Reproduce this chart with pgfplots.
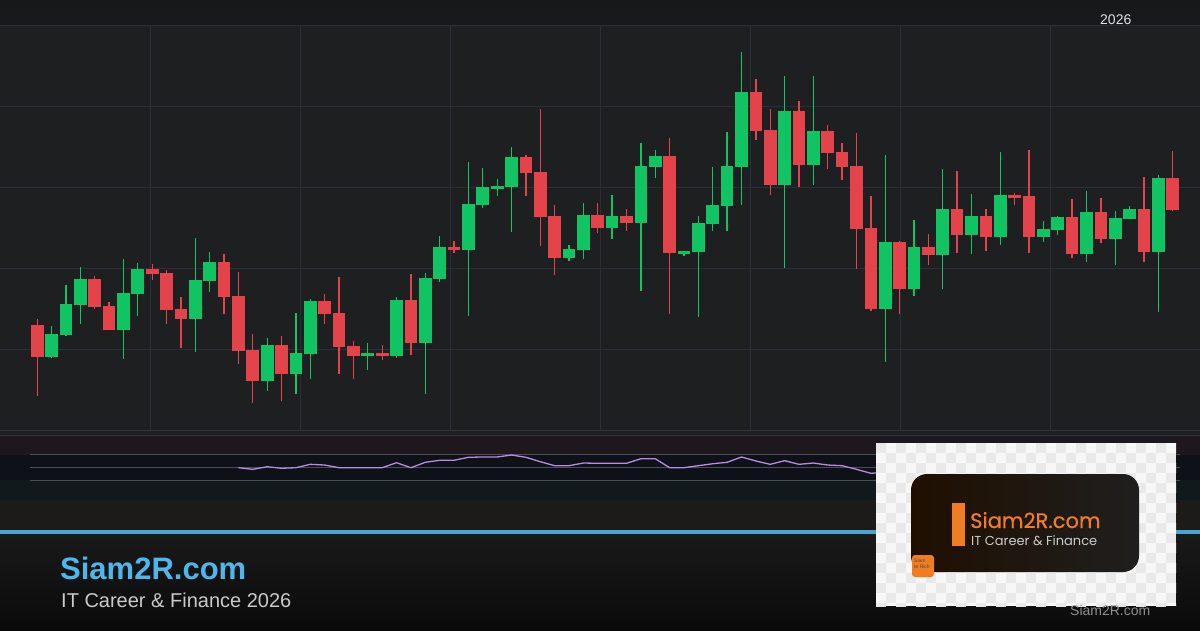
\documentclass[border=0pt]{standalone}
\usepackage{pgfplots}
\pgfplotsset{compat=1.18}
\usepackage{pgfplotstable}
\usepackage{fontspec}
\setmainfont{Liberation Sans}
\newfontfamily\pop{Poppins}
\newfontfamily\popb{Poppins}[FakeBold=0.6]
\definecolor{hdr}{HTML}{17181A}
\definecolor{chartbg}{HTML}{1E1F21}
\definecolor{gridc}{HTML}{2A2E39}
\definecolor{upc}{HTML}{10C463}
\definecolor{dnc}{HTML}{E5434B}
\definecolor{sepc}{HTML}{33353A}
\definecolor{obz}{HTML}{1E171E}
\definecolor{midz}{HTML}{0E1118}
\definecolor{osz}{HTML}{101A1C}
\definecolor{lowbg}{HTML}{1C1B1A}
\definecolor{bluel}{HTML}{4BA3D0}
\definecolor{rsic}{HTML}{B88AE2}
\definecolor{rsilev}{HTML}{4A4D55}
\definecolor{brand}{HTML}{4DB6EA}
\definecolor{subc}{HTML}{CACACA}
\definecolor{orangec}{HTML}{F07D22}
\definecolor{chk}{HTML}{E9E9E9}
\definecolor{wm}{HTML}{8E8E8E}

% up (green) candles: index, open, high, low, close
\pgfplotstableread{
i o h l c
1 73 104 72 96
2 95 145 94 126
3 125 163 106 151
6 100 171 71 137
7 136 167 114 161
11 111 192 78 150
12 149 178 138 168
16 49 92 39 85
18 56 117 36 77
19 76 131 51 129
23 74 87 60 77
25 74 133 72 130
27 87 157 36 152
28 151 194 148 183
30 180 268 114 226
31 225 262 222 243
32 241 251 234 244
33 243 283 198 273
37 172 185 169 181
38 180 227 171 215
40 202 235 191 214
42 207 287 139 264
43 263 280 252 274
45 176 179 174 179
46 178 214 113 207
47 206 263 199 225
48 224 298 199 264
49 263 378 225 338
52 245 354 162 319
54 265 354 245 299
59 121 275 68 188
61 141 210 134 183
63 175 261 141 221
65 195 236 176 214
67 193 278 185 235
70 193 209 188 201
71 200 214 195 213
73 176 239 168 218
75 191 219 165 212
76 211 224 211 221
78 178 255 118 252
}\upT

% down (red) candles: index, open, high, low, close
\pgfplotstableread{
i o h l c
0 105 111 34 73
4 151 154 121 123
5 124 128 100 100
8 161 166 150 156
9 157 160 106 120
10 121 133 82 111
13 168 176 116 133
14 134 158 66 79
15 80 96 27 49
17 85 94 29 56
20 129 136 106 116
21 117 153 56 83
22 84 89 51 74
24 77 85 70 74
26 130 156 75 87
29 183 189 177 180
34 273 275 234 257
35 258 321 184 213
36 214 225 155 172
39 215 227 197 202
41 214 221 199 207
44 274 292 116 177
50 338 351 290 299
51 300 321 235 245
53 319 329 243 265
55 299 305 261 277
56 278 287 250 263
57 264 297 161 201
58 202 234 119 121
60 188 189 116 141
62 183 196 165 175
64 221 259 177 195
66 214 221 179 193
68 235 237 225 232
69 234 280 177 193
72 213 231 172 176
74 218 232 187 191
77 221 253 168 178
79 252 279 219 220
}\downT

% RSI
\pgfplotstableread{
i r
14 49.7
15 47.2
16 51.2
17 48.8
18 49.7
19 54.9
20 53.8
21 49.7
22 49.7
23 49.7
24 49.7
25 57.4
26 49.7
27 58.0
28 61.1
29 61.1
30 65.7
31 66.2
32 66.2
33 69.2
34 65.7
35 58.9
36 52.8
37 52.8
38 56.9
39 56.5
40 56.5
41 56.5
42 63.5
43 63.5
44 49.7
45 49.7
46 52.8
47 55.8
48 58.0
49 66.2
50 60.0
51 54.9
52 60.5
53 54.9
54 56.9
55 53.8
56 52.8
57 47.2
58 41.1
59 42.6
}\rsiT

\begin{document}
\begin{tikzpicture}[x=1pt,y=-1pt]
\useasboundingbox (0,0) rectangle (1200,630);
% backgrounds
\fill[chartbg] (0,0) rectangle (1200,430);
\shade[top color=hdr, bottom color=hdr!80!chartbg] (0,0) rectangle (1200,25);
\fill[chartbg] (0,430) rectangle (1200,435);
\fill[obz] (0,435) rectangle (1200,455);
\fill[midz] (0,455) rectangle (1200,480);
\fill[osz] (0,480) rectangle (1200,500);
\fill[lowbg] (0,500) rectangle (1200,530);
\fill[bluel] (0,530) rectangle (1200,534);
\shade[top color=black!90!white, bottom color=black!96!white] (0,534) rectangle (1200,630);
% grid
\foreach \gy in {25,106,187,268,349}
  \draw[gridc, line width=1pt] (0,\gy) -- (1200,\gy);
\foreach \gx in {150,300,...,1050}
  \draw[gridc, line width=1pt] (\gx,25) -- (\gx,430);
\draw[sepc, line width=1pt] (0,430.5) -- (1200,430.5);
\draw[sepc, line width=1pt] (0,435) -- (1200,435);
\node[anchor=base west, text=white!88!black, font=\fontsize{14}{16}\selectfont, inner sep=0pt] at (1100,24) {2026};

% candles
\begin{axis}[at={(30pt,-430pt)}, anchor=south west, scale only axis,
  width=1150pt, height=405pt, xmin=-0.5, xmax=79.5, ymin=0, ymax=405,
  axis lines=none, clip=false]
\addplot[draw=none, mark=none, error bars/.cd, y dir=plus, y explicit,
  error mark=none, error bar style={line width=1.3pt, draw=upc}]
  table[x=i, y=l, y error plus expr=\thisrow{h}-\thisrow{l}] {\upT};
\addplot[draw=none, mark=none, error bars/.cd, y dir=plus, y explicit,
  error mark=none, error bar style={line width=1.3pt, draw=dnc}]
  table[x=i, y=l, y error plus expr=\thisrow{h}-\thisrow{l}] {\downT};
\addplot[draw=none, mark=none, error bars/.cd, y dir=plus, y explicit,
  error mark=none, error bar style={line width=12.7pt, draw=upc}]
  table[x=i, y=o, y error plus expr=\thisrow{c}-\thisrow{o}] {\upT};
\addplot[draw=none, mark=none, error bars/.cd, y dir=plus, y explicit,
  error mark=none, error bar style={line width=12.7pt, draw=dnc}]
  table[x=i, y=c, y error plus expr=\thisrow{o}-\thisrow{c}] {\downT};
\end{axis}

% RSI
\begin{axis}[at={(30pt,-500pt)}, anchor=south west, scale only axis,
  width=1150pt, height=65pt, xmin=-0.5, xmax=79.5, ymin=0, ymax=100,
  axis lines=none, clip=false]
\draw[rsilev, line width=1pt] (axis cs:-0.5,70) -- (axis cs:79.5,70);
\draw[rsilev, line width=1pt] (axis cs:-0.5,50) -- (axis cs:79.5,50);
\draw[rsilev, line width=1pt] (axis cs:-0.5,30) -- (axis cs:79.5,30);
\addplot[rsic, line width=1.3pt, mark=none] table[x=i, y=r] {\rsiT};
\end{axis}

% bottom-left brand
\node[anchor=base west, inner sep=0pt, text=brand, font=\fontsize{31}{36}\selectfont\bfseries] at (60,579) {Siam2R.com};
\node[anchor=base west, inner sep=0pt, text=subc, font=\fontsize{20}{24}\selectfont] at (61,607) {IT Career \& Finance 2026};

% logo box
\fill[white!97!black] (876,443) rectangle (1176,606);
\begin{scope}
\clip (876,443) rectangle (1176,606);
\foreach \xx in {876,896,...,1176}
  \foreach \yy in {443,463,...,606} {
    \fill[chk] (\xx,\yy) rectangle ++(10,10);
    \fill[chk] (\xx+10,\yy+10) rectangle ++(10,10);
  }
\end{scope}
\shade[rounded corners=16pt, left color=black!80!orange!60!black, right color=black!88!white] (911,474) rectangle (1139,572);
\fill[orangec] (952,503) rectangle (965,546);
\node[anchor=base west, inner sep=0pt, text=orangec, font=\popb\fontsize{21}{24}\selectfont] at (970,528) {Siam2R.com};
\node[anchor=base west, inner sep=0pt, text=white!80!black, font=\pop\fontsize{13}{16}\selectfont] at (971,545) {IT Career \& Finance};
\fill[orangec, rounded corners=3pt] (912,555) rectangle (934,577);
\node[anchor=north west, inner sep=0pt, text=black!70, font=\fontsize{5}{5.5}\selectfont, align=left] at (914,559) {Siam\\to Rich};
\node[anchor=base west, inner sep=0pt, text=wm, font=\fontsize{14}{16}\selectfont] at (1070,615) {Siam2R.com};
\end{tikzpicture}
\end{document}
